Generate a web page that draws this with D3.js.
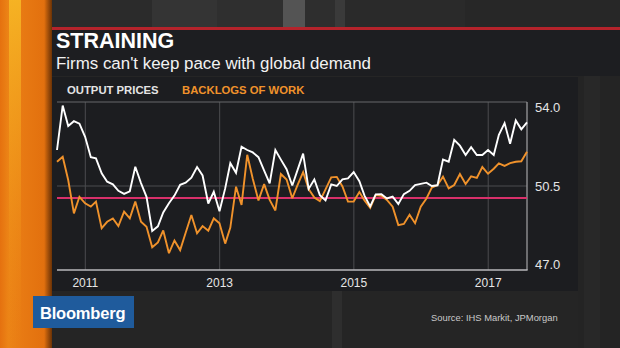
<!DOCTYPE html>
<html>
<head>
<meta charset="utf-8">
<script src="https://cdn.jsdelivr.net/npm/d3@7"></script>
<style>
  html, body { margin: 0; padding: 0; background: #262626; }
  svg { display: block; }
  text { font-family: "Liberation Sans", Arial, sans-serif; }
</style>
</head>
<body>
<svg id="chart" width="620" height="348"></svg>
<script>
// Monthly survey readings, Jul 2010 .. Jul 2017 (one value per month)
var firstMonth = { year: 2010, month: 6 };

var outputPrices = [
  52.0, 53.85, 53.0, 53.2, 53.1, 52.55, 51.7, 51.65, 51.03, 50.68,
  50.57, 50.3, 50.17, 50.28, 51.3, 50.62, 50.05, 48.63, 48.82, 49.4,
  49.78, 50.1, 50.55, 50.64, 50.85, 51.29, 50.94, 49.77, 50.26, 49.45,
  50.4, 51.45, 51.05, 52.14, 52.0, 51.9, 51.7, 51.14, 50.61, 52.0,
  51.6, 51.2, 50.52, 51.15, 51.85, 50.38, 50.77, 50.12, 49.9, 50.57,
  50.5, 50.78, 50.82, 51.08, 50.7, 50.1, 49.65, 50.15, 50.16, 49.98,
  50.06, 49.75, 50.16, 50.3, 50.54, 50.59, 50.64, 50.5, 50.53, 51.6,
  51.51, 52.42, 52.18, 51.79, 52.12, 51.79, 51.79, 52.0, 51.79, 52.63,
  53.12, 52.26, 53.23, 52.86, 53.15
];

var backlogsOfWork = [
  51.51, 51.72, 50.75, 49.36, 50.05, 49.78, 49.64, 49.85, 48.74, 49.01,
  49.15, 48.83, 49.43, 49.15, 49.85, 49.01, 48.8, 47.95, 48.15, 48.65,
  47.7, 48.23, 47.83, 48.55, 49.29, 48.53, 48.83, 48.64, 49.15, 48.95,
  48.1, 48.77, 50.47, 49.71, 51.8, 50.8, 49.9, 50.58, 49.92, 49.48,
  51.0, 50.77, 49.99, 50.53, 51.08, 50.37, 50.02, 49.87, 50.36, 50.86,
  50.88, 50.48, 49.85, 49.85, 50.25, 49.9, 49.59, 50.12, 50.09, 49.92,
  49.64, 48.87, 48.92, 49.3, 48.95, 49.64, 49.98, 50.43, 50.54, 50.89,
  50.4, 50.54, 51.0, 50.58, 50.9, 50.84, 51.29, 51.01, 51.22, 51.44,
  51.34, 51.45, 51.51, 51.53, 51.93
];

var yearTicks = [2011, 2013, 2015, 2017];
var valueTicks = [47.0, 50.5, 54.0];
var expansionLine = 50;

var seriesNames = ['OUTPUT PRICES', 'BACKLOGS OF WORK'];
var seriesColors = ['#ffffff', '#f0922b'];

// readings are stamped at month end
var dates = outputPrices.map(function(d, i) {
  return new Date(firstMonth.year, firstMonth.month + i + 1, 0);
});

var svg = d3.select('#chart');
var W = 620, H = 348;
var plot = { left: 57, right: 527, top: 102, bottom: 270 };

var defs = svg.append('defs');

// ---- backdrop ------------------------------------------------------------
svg.append('rect').attr('width', W).attr('height', H).attr('fill', '#252525');

// blurred studio wall behind the top of the graphic
var wall = [
  [52, 100, '#2b2b2b'], [152, 65, '#343434'], [217, 66, '#2f2f2f'],
  [283, 22, '#545454'], [305, 30, '#2e2e2e'], [335, 10, '#3a3a3a'],
  [345, 120, '#2a2a2a'], [465, 155, '#272727']
];
svg.append('g').selectAll('rect').data(wall).join('rect')
  .attr('x', function(d) { return d[0]; }).attr('y', 0)
  .attr('width', function(d) { return d[1]; }).attr('height', 28)
  .attr('fill', function(d) { return d[2]; });

// faint bands below and right of the panel
svg.append('rect').attr('x', 332).attr('y', 290).attr('width', 10).attr('height', 58)
  .attr('fill', '#2e2e2e');
svg.append('rect').attr('x', 578).attr('y', 76).attr('width', 42).attr('height', 272)
  .attr('fill', '#242424');
svg.append('rect').attr('x', 584).attr('y', 76).attr('width', 16).attr('height', 272)
  .attr('fill', '#282828');

// orange side strip
var stripGrad = defs.append('linearGradient').attr('id', 'strip')
  .attr('x1', 0).attr('x2', 1).attr('y1', 0).attr('y2', 0);
[[0, '#e5710f'], [0.16, '#ec8416'], [0.42, '#e87a13'], [0.86, '#e2700e'], [1, '#c45d0b']]
  .forEach(function(s) { stripGrad.append('stop').attr('offset', s[0]).attr('stop-color', s[1]); });
svg.append('rect').attr('x', 0).attr('y', 0).attr('width', 52).attr('height', H)
  .attr('fill', 'url(#strip)');

var bandGrad = defs.append('linearGradient').attr('id', 'band')
  .attr('x1', 0).attr('x2', 0).attr('y1', 0).attr('y2', 1);
bandGrad.append('stop').attr('offset', 0).attr('stop-color', '#f6b524').attr('stop-opacity', 0.95);
bandGrad.append('stop').attr('offset', 0.45).attr('stop-color', '#f3a21e').attr('stop-opacity', 0.55);
bandGrad.append('stop').attr('offset', 1).attr('stop-color', '#ee8a17').attr('stop-opacity', 0);
svg.append('rect').attr('x', 9).attr('y', 0).attr('width', 12).attr('height', H)
  .attr('fill', 'url(#band)');

var shade = defs.append('linearGradient').attr('id', 'shade')
  .attr('x1', 0).attr('x2', 1).attr('y1', 0).attr('y2', 0);
shade.append('stop').attr('offset', 0).attr('stop-color', '#000').attr('stop-opacity', 0);
shade.append('stop').attr('offset', 1).attr('stop-color', '#000').attr('stop-opacity', 0.45);
svg.append('rect').attr('x', 44).attr('y', 0).attr('width', 8).attr('height', H)
  .attr('fill', 'url(#shade)');

// ---- header --------------------------------------------------------------
svg.append('rect').attr('x', 52).attr('y', 27).attr('width', W - 52).attr('height', 3)
  .attr('fill', '#b5232b');
svg.append('rect').attr('x', 52).attr('y', 30).attr('width', W - 52).attr('height', 46)
  .attr('fill', '#1d1e21');

svg.append('text').attr('x', 56).attr('y', 48.3)
  .attr('fill', '#ffffff').attr('font-size', 21.5).attr('font-weight', 'bold')
  .text('STRAINING');
svg.append('text').attr('x', 56).attr('y', 68.6)
  .attr('fill', '#f2f2f2').attr('font-size', 16.9)
  .text("Firms can't keep pace with global demand");

// ---- chart panel ---------------------------------------------------------
svg.append('rect').attr('x', 52).attr('y', 77).attr('width', 526).attr('height', 214)
  .attr('fill', '#1c1d20');

var legendX = [67, 182];
svg.append('g').selectAll('text').data(seriesNames).join('text')
  .attr('x', function(d, i) { return legendX[i]; }).attr('y', 94)
  .attr('fill', function(d, i) { return i === 0 ? '#e4e4e4' : seriesColors[1]; })
  .attr('font-size', 11.3).attr('font-weight', 'bold')
  .text(function(d) { return d; });

var x = d3.scaleTime()
  .domain([dates[0], dates[dates.length - 1]])
  .range([plot.left, plot.right]);
var y = d3.scaleLinear()
  .domain([valueTicks[0], valueTicks[valueTicks.length - 1]])
  .range([plot.bottom, plot.top]);

// grid
var yearDates = yearTicks.map(function(yr) { return new Date(yr, 0, 1); });
svg.append('g').selectAll('line').data(yearDates).join('line')
  .attr('x1', function(d) { return x(d); }).attr('x2', function(d) { return x(d); })
  .attr('y1', plot.top).attr('y2', plot.bottom)
  .attr('stroke', '#4b4c4f').attr('stroke-width', 1);
svg.append('line')
  .attr('x1', plot.left).attr('x2', plot.right)
  .attr('y1', y(valueTicks[1])).attr('y2', y(valueTicks[1]))
  .attr('stroke', '#4b4c4f').attr('stroke-width', 1);

// frame: top, right, bottom
svg.append('line').attr('x1', plot.left).attr('x2', plot.right)
  .attr('y1', plot.top).attr('y2', plot.top)
  .attr('stroke', '#67686b').attr('stroke-width', 1);
svg.append('line').attr('x1', plot.right).attr('x2', plot.right)
  .attr('y1', plot.top).attr('y2', plot.bottom)
  .attr('stroke', '#a3a4a6').attr('stroke-width', 1.2);
svg.append('line').attr('x1', plot.left).attr('x2', plot.right + 0.6)
  .attr('y1', plot.bottom).attr('y2', plot.bottom)
  .attr('stroke', '#b9b9bb').attr('stroke-width', 1.5);

// 50 = no change
svg.append('line').attr('x1', plot.left).attr('x2', plot.right)
  .attr('y1', y(expansionLine)).attr('y2', y(expansionLine))
  .attr('stroke', '#d8306a').attr('stroke-width', 2);

// series
var line = d3.line()
  .x(function(d, i) { return x(dates[i]); })
  .y(function(d) { return y(d); });

[backlogsOfWork, outputPrices].forEach(function(series, k) {
  svg.append('path').datum(series)
    .attr('d', line)
    .attr('fill', 'none')
    .attr('stroke', k === 0 ? seriesColors[1] : seriesColors[0])
    .attr('stroke-width', 1.9)
    .attr('stroke-linejoin', 'miter')
    .attr('stroke-miterlimit', 3);
});

// axes labels
svg.append('g').selectAll('text').data(yearDates).join('text')
  .attr('x', function(d) { return x(d); }).attr('y', 287)
  .attr('text-anchor', 'middle')
  .attr('fill', '#e6e6e6').attr('font-size', 12)
  .text(function(d) { return d.getFullYear(); });

var fmt = d3.format('.1f');
svg.append('g').selectAll('text').data(valueTicks).join('text')
  .attr('x', 535)
  .attr('y', function(d, i) {
    if (i === valueTicks.length - 1) return y(d) + 9.5;
    if (i === 0) return y(d) - 1.5;
    return y(d) + 4.7;
  })
  .attr('fill', '#e4e4e4').attr('font-size', 13)
  .text(function(d) { return fmt(d); });

// ---- footer --------------------------------------------------------------
svg.append('rect').attr('x', 33).attr('y', 296).attr('width', 101).attr('height', 32)
  .attr('fill', '#1f5b9c');
svg.append('text').attr('x', 40).attr('y', 319)
  .attr('fill', '#ffffff').attr('font-size', 16.5).attr('font-weight', 'bold')
  .attr('letter-spacing', -0.2)
  .text('Bloomberg');

svg.append('text').attr('x', 431).attr('y', 321)
  .attr('fill', '#c9c9c9').attr('font-size', 9.4)
  .text('Source: IHS Markit, JPMorgan');
</script>
</body>
</html>
